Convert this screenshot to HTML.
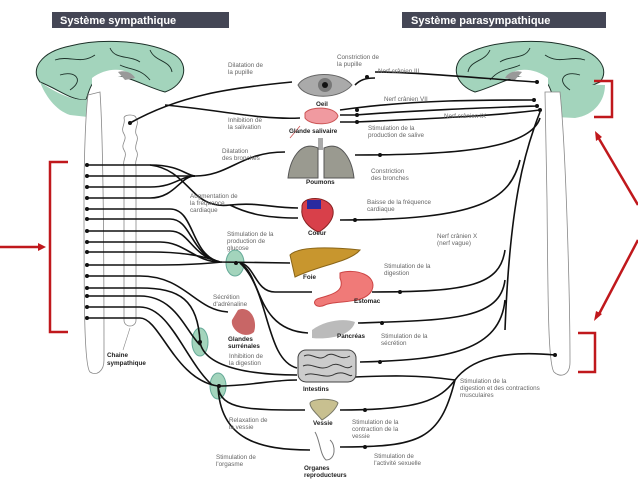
<!DOCTYPE html>
<html><head><meta charset="utf-8"><style>
html,body{margin:0;padding:0;background:#fff;}
svg{display:block;}
text{font-family:"Liberation Sans",sans-serif;font-size:6.3px;fill:#666;}
.b{font-weight:bold;fill:#222;}
.h{font-size:11px;font-weight:bold;fill:#fff;}
.n{fill:none;stroke:#111;stroke-width:1.6;}
.d{fill:#111;}
</style></head><body>
<svg width="638" height="479" viewBox="0 0 638 479" xmlns="http://www.w3.org/2000/svg">
<rect x="52" y="12" width="177" height="16" fill="#444655"/>
<text class="h" x="60" y="24">Système sympathique</text>
<rect x="402" y="12" width="204" height="16" fill="#444655"/>
<text class="h" x="411" y="24">Système parasympathique</text>

<!-- left brain -->
<path d="M40,82 C30,70 40,52 70,46 C100,38 150,40 175,55 C190,65 185,85 165,92 C140,85 120,70 100,76 C90,82 88,95 86,100 C70,100 60,90 40,82Z" fill="#a3d4bc" stroke="#1c3028" stroke-width="1"/>
<path d="M40,82 C45,95 55,110 70,115 L88,117 C90,105 88,95 86,100 C70,100 55,92 40,82Z" fill="#a3d4bc"/>
<path d="M55,60 C70,55 80,65 95,55 M110,48 C115,60 130,55 140,62 M60,75 C75,70 85,80 70,90 M150,50 C155,62 170,60 172,72 M120,65 C130,70 140,68 150,80" fill="none" stroke="#1c3028" stroke-width="0.9"/>
<path d="M92,78 C105,68 125,66 135,78 C120,74 105,76 92,86Z" fill="#fff"/>
<path d="M118,72 C124,70 132,72 135,78 L125,80Z" fill="#999"/>
<!-- right brain -->
<path d="M600,82 C610,70 600,52 570,46 C540,38 490,40 465,55 C450,65 455,85 475,92 C500,85 520,70 540,76 C550,82 552,95 554,100 C570,100 580,90 600,82Z" fill="#a3d4bc" stroke="#1c3028" stroke-width="1"/>
<path d="M605,85 C605,100 595,115 575,118 L556,117 C553,105 553,95 556,88 C570,86 590,84 605,85Z" fill="#a3d4bc"/>
<path d="M585,60 C570,55 560,65 545,55 M530,48 C525,60 510,55 500,62 M580,75 C565,70 555,80 570,90 M490,50 C485,62 470,60 468,72 M520,65 C510,70 500,68 490,80" fill="none" stroke="#1c3028" stroke-width="0.9"/>
<path d="M548,78 C535,68 515,66 505,78 C520,74 535,76 548,86Z" fill="#fff"/>
<path d="M522,72 C516,70 508,72 505,78 L515,80Z" fill="#999"/>

<!-- cords -->
<path d="M88,95 L100,92 C104,150 104,300 104,360 C104,372 96,376 90,372 C84,366 84,300 84,200 C84,150 86,110 88,95Z" fill="#fff" stroke="#888" stroke-width="0.8"/>
<path d="M545,92 L560,92 C566,150 570,300 570,362 C570,376 560,378 554,372 C548,364 548,300 547,200 C546,150 545,110 545,92Z" fill="#fff" stroke="#888" stroke-width="0.8"/>
<!-- chain -->
<path d="M124,118 C124,114 136,114 136,118 C140,124 134,128 136,134 C140,140 134,144 136,150 C140,156 134,160 136,166 L136,320 C136,328 124,328 124,320 L124,166 C122,160 128,156 124,150 C120,144 128,140 124,134 C120,128 126,124 124,118Z" fill="#fff" stroke="#888" stroke-width="0.8"/>
<line x1="130" y1="328" x2="123" y2="350" stroke="#888" stroke-width="0.6"/>

<!-- red brackets -->
<g fill="none" stroke="#c0181c" stroke-width="2.5">
<path d="M68,162 L50,162 L50,332 L68,332"/>
<path d="M594,81 L612,81 L612,117 L594,117"/>
<path d="M578,333 L595,333 L595,372 L578,372"/>
<line x1="0" y1="247" x2="40" y2="247"/>
<line x1="638" y1="205" x2="598" y2="137"/>
<line x1="638" y1="240" x2="598" y2="316"/>
</g>
<path d="M46,247 L38,243 L38,251Z" fill="#c0181c"/>
<path d="M595,131 L596,141 L602,137Z" fill="#c0181c"/>
<path d="M594,321 L596,311 L602,314Z" fill="#c0181c"/>

<!-- ganglia -->
<ellipse cx="235" cy="263" rx="9" ry="13" fill="#a3d4bc" stroke="#6a9"/>
<ellipse cx="200" cy="342" rx="8" ry="14" fill="#a3d4bc" stroke="#6a9"/>
<ellipse cx="218" cy="386" rx="8" ry="13" fill="#a3d4bc" stroke="#6a9"/>

<!-- sympathetic nerves -->
<g class="n">
<path d="M130,123 C180,95 230,88 292,82"/>
<path d="M165,105 C220,110 260,120 300,118"/>
<path d="M87,165 L150,165 C180,165 185,175 195,176 C230,176 240,152 285,152"/>
<path d="M87,176 L195,176"/>
<path d="M87,187 L150,187 C175,187 180,176 195,176"/>
<path d="M87,198 L150,198 C175,198 180,176 195,176"/>
<path d="M150,165 C190,170 190,210 230,205 C260,202 270,208 298,208"/>
<path d="M230,205 C250,215 270,218 298,218"/>
<path d="M87,209 L170,209 C195,209 190,255 220,262 L290,263"/>
<path d="M87,219 L170,219 C192,219 190,255 220,262"/>
<path d="M87,231 L170,231 C190,231 190,255 220,262"/>
<path d="M87,242 L160,242 C185,242 195,262 220,262"/>
<path d="M240,263 C255,265 255,292 275,292 L312,292"/>
<path d="M240,263 C262,275 255,330 308,333"/>
<path d="M240,263 C270,290 265,360 297,368"/>
<path d="M87,252 L150,252 C180,252 200,255 220,262"/>
<path d="M87,265 L140,265 C175,265 190,265 222,262"/>
<path d="M87,276 L140,276 C185,276 195,310 228,312"/>
<path d="M87,288 L140,288 C180,288 198,300 200,342 C205,370 260,375 297,375"/>
<path d="M87,296 L140,296 C175,296 185,330 200,345"/>
<path d="M87,307 L140,307 C170,307 185,360 212,385"/>
<path d="M87,318 L140,318 C160,318 175,380 218,386 C250,386 270,380 297,380"/>
<path d="M218,386 C220,410 250,410 305,410"/>
<path d="M218,386 C220,440 260,450 310,450"/>
</g>
<!-- parasympathetic -->
<g class="n">
<path d="M537,82 C500,80 420,72 375,72"/>
<path d="M355,85 C360,80 365,78 375,78"/>
<path d="M534,100 C480,100 420,100 355,108 L340,110"/>
<path d="M537,106 C480,108 420,110 355,115 L340,115"/>
<path d="M540,110 C500,115 450,118 355,122 L340,122"/>
<path d="M540,118 C530,150 450,155 355,155"/>
<path d="M540,112 C525,150 510,200 505,330"/>
<path d="M520,160 C510,200 480,220 340,220"/>
<path d="M505,250 C500,285 470,292 372,292"/>
<path d="M505,280 C500,320 450,320 358,323"/>
<path d="M505,300 C500,350 450,360 360,362"/>
<path d="M555,355 C500,350 470,360 455,380 C440,400 420,410 340,410"/>
<path d="M455,380 C440,440 420,447 340,447"/>
<path d="M455,380 C420,375 390,375 335,378"/>
</g>
<g class="d">
<circle cx="537" cy="82" r="2"/><circle cx="534" cy="100" r="2"/><circle cx="537" cy="106" r="2"/><circle cx="540" cy="110" r="2"/><circle cx="555" cy="355" r="2"/>
<circle cx="130" cy="123" r="2"/>
<circle cx="367" cy="77" r="2"/><circle cx="357" cy="110" r="2"/><circle cx="357" cy="115" r="2"/><circle cx="357" cy="122" r="2"/>
<circle cx="380" cy="155" r="2"/><circle cx="355" cy="220" r="2"/><circle cx="400" cy="292" r="2"/><circle cx="382" cy="323" r="2"/><circle cx="380" cy="362" r="2"/><circle cx="365" cy="410" r="2"/><circle cx="365" cy="447" r="2"/>
<circle cx="87" cy="165" r="2"/><circle cx="87" cy="176" r="2"/><circle cx="87" cy="187" r="2"/><circle cx="87" cy="198" r="2"/><circle cx="87" cy="209" r="2"/><circle cx="87" cy="219" r="2"/><circle cx="87" cy="231" r="2"/><circle cx="87" cy="242" r="2"/><circle cx="87" cy="252" r="2"/><circle cx="87" cy="265" r="2"/><circle cx="87" cy="276" r="2"/><circle cx="87" cy="288" r="2"/><circle cx="87" cy="296" r="2"/><circle cx="87" cy="307" r="2"/><circle cx="87" cy="318" r="2"/>
<circle cx="236" cy="263" r="2"/><circle cx="200" cy="342" r="2"/><circle cx="219" cy="386" r="2"/>
</g>

<!-- organs -->
<path d="M298,85 C305,72 340,70 352,85 C340,100 305,100 298,85Z" fill="#aaa" stroke="#666"/>
<circle cx="325" cy="85" r="7" fill="#777"/><circle cx="325" cy="85" r="3" fill="#111"/>
<path d="M305,113 C310,106 335,106 338,116 C335,126 310,126 305,118Z" fill="#f09aa0" stroke="#c55"/>
<path d="M290,138 L300,126" stroke="#c55" stroke-width="0.8"/>
<rect x="318" y="138" width="5" height="12" fill="#aaa"/>
<path d="M318,148 C300,140 290,160 288,178 L318,178Z" fill="#9a9a90" stroke="#555"/>
<path d="M324,148 C342,140 352,160 354,178 L324,178Z" fill="#9a9a90" stroke="#555"/>
<path d="M302,208 C300,195 330,195 333,210 C335,222 320,232 318,232 C310,228 300,220 302,208Z" fill="#d8404a" stroke="#822"/>
<rect x="307" y="200" width="14" height="9" fill="#2a2aa0"/>
<path d="M290,255 C300,245 340,248 360,250 C350,262 320,265 295,277Z" fill="#c8962e" stroke="#8a6518"/>
<path d="M340,273 C355,268 378,275 372,290 C365,305 335,300 325,305 C315,310 310,300 320,298 C335,294 345,290 340,278Z" fill="#f07a78" stroke="#c44"/>
<path d="M238,310 C250,305 258,320 254,332 C245,340 230,330 232,320Z" fill="#c86666"/>
<path d="M312,330 C325,320 345,318 355,322 C352,335 330,340 312,338Z" fill="#bbb"/>
<rect x="298" y="350" width="58" height="32" rx="8" fill="#ccc" stroke="#444"/>
<path d="M304,356 C312,352 318,362 326,356 C334,350 340,362 350,356 M303,366 C312,362 320,372 330,366 C340,360 345,372 352,366 M305,375 C315,371 325,380 335,374 C345,370 350,378 352,375" fill="none" stroke="#333"/>
<path d="M310,403 C312,398 335,398 338,403 C335,412 325,418 322,420 C315,412 310,408 310,403Z" fill="#c8c090" stroke="#776"/>
<path d="M315,432 C320,440 320,455 326,460 C336,460 336,445 330,440" fill="none" stroke="#777"/>

<!-- labels -->
<text x="228" y="67">Dilatation de</text><text x="228" y="74">la pupille</text>
<text x="337" y="59">Constriction de</text><text x="337" y="66">la pupille</text>
<text x="378" y="73">Nerf crânien III</text>
<text class="b" x="316" y="106">Oeil</text>
<text x="384" y="101">Nerf crânien VII</text>
<text x="444" y="118">Nerf crânien IX</text>
<text x="228" y="122">Inhibition de</text><text x="228" y="129">la salivation</text>
<text class="b" x="289" y="133">Glande salivaire</text>
<text x="368" y="130">Stimulation de la</text><text x="368" y="137">production de salive</text>
<text x="222" y="153">Dilatation</text><text x="222" y="160">des bronches</text>
<text class="b" x="306" y="184">Poumons</text>
<text x="371" y="173">Constriction</text><text x="371" y="180">des bronches</text>
<text x="190" y="198">Augmentation de</text><text x="190" y="205">la fréquence</text><text x="190" y="212">cardiaque</text>
<text x="367" y="204">Baisse de la fréquence</text><text x="367" y="211">cardiaque</text>
<text class="b" x="308" y="235">Coeur</text>
<text x="227" y="236">Stimulation de la</text><text x="227" y="243">production de</text><text x="227" y="250">glucose</text>
<text x="437" y="238">Nerf crânien X</text><text x="437" y="245">(nerf vague)</text>
<text class="b" x="303" y="279">Foie</text>
<text x="384" y="268">Stimulation de la</text><text x="384" y="275">digestion</text>
<text class="b" x="354" y="303">Estomac</text>
<text x="213" y="299">Sécrétion</text><text x="213" y="306">d'adrénaline</text>
<text class="b" x="228" y="341">Glandes</text><text class="b" x="228" y="348">surrénales</text>
<text class="b" x="337" y="338">Pancréas</text>
<text x="381" y="338">Stimulation de la</text><text x="381" y="345">sécrétion</text>
<text class="b" x="107" y="357">Chaine</text><text class="b" x="107" y="365">sympathique</text>
<text x="229" y="358">Inhibition de</text><text x="229" y="365">la digestion</text>
<text class="b" x="303" y="391">Intestins</text>
<text x="460" y="383">Stimulation de la</text><text x="460" y="390">digestion et des contractions</text><text x="460" y="397">musculaires</text>
<text x="229" y="422">Relaxation de</text><text x="229" y="429">la vessie</text>
<text class="b" x="313" y="425">Vessie</text>
<text x="352" y="424">Stimulation de la</text><text x="352" y="431">contraction de la</text><text x="352" y="438">vessie</text>
<text x="216" y="459">Stimulation de</text><text x="216" y="466">l'orgasme</text>
<text class="b" x="304" y="470">Organes</text><text class="b" x="304" y="477">reproducteurs</text>
<text x="374" y="458">Stimulation de</text><text x="374" y="465">l'activité sexuelle</text>
</svg>
</body></html>
